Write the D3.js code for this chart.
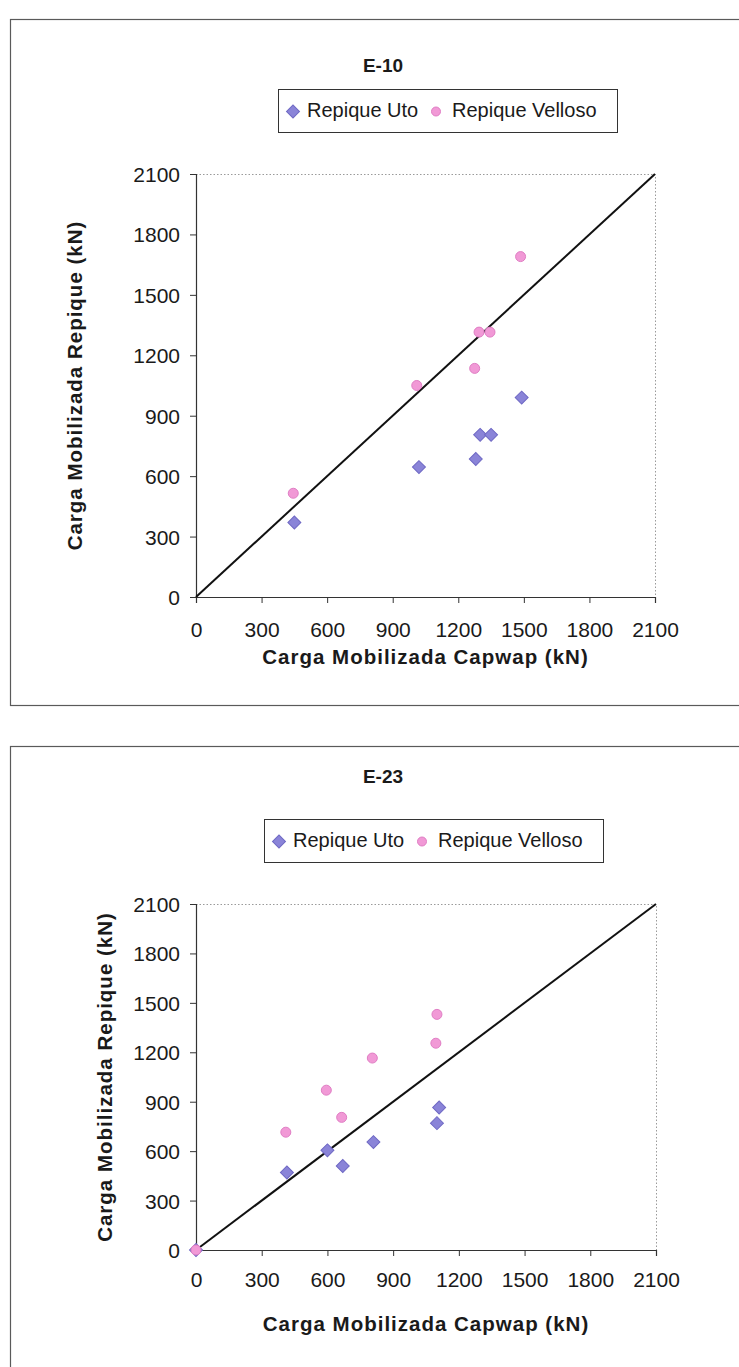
<!DOCTYPE html>
<html>
<head>
<meta charset="utf-8">
<script src="https://cdn.jsdelivr.net/npm/d3@7"></script>
<style>
  html, body { margin: 0; padding: 0; background: #fff; }
  svg { display: block; }
  text { font-family: "Liberation Sans", Arial, sans-serif; fill: #1a1a1a; }
</style>
</head>
<body>
<svg id="chart" width="739" height="1367"></svg>
<script>
// Axis ticks shared by both panels (kN)
const tickValues = [0, 300, 600, 900, 1200, 1500, 1800, 2100];
const seriesNames = ["Repique Uto", "Repique Velloso"];
const panelTitles = ["E-10", "E-23"];

// E-10: [Capwap, Repique] in kN
const e10Uto = [[450, 370], [1020, 645], [1280, 685], [1300, 805], [1350, 805], [1490, 990]];
const e10Velloso = [[445, 515], [1010, 1050], [1275, 1135], [1295, 1315], [1345, 1315], [1485, 1690]];

// E-23: [Capwap, Repique] in kN
const e23Uto = [[0, 0], [415, 470], [600, 605], [670, 510], [810, 655], [1100, 770], [1110, 865]];
const e23Velloso = [[0, 0], [410, 715], [595, 970], [665, 805], [805, 1165], [1095, 1255], [1100, 1430]];

// 1:1 reference line
const identityLine = [[0, 0], [2100, 2100]];

const svg = d3.select("#chart");

const COLORS = {
  uto: { fill: "#8a84d8", stroke: "#6f69c4" },
  velloso: { fill: "#f199d6", stroke: "#e07ec4" }
};

const diamondPath = d3.symbol(d3.symbolSquare, 84)();

function drawDiamond(g, x, y) {
  g.append("path")
    .attr("d", diamondPath)
    .attr("transform", `translate(${x},${y}) rotate(45)`)
    .attr("fill", COLORS.uto.fill)
    .attr("stroke", COLORS.uto.stroke)
    .attr("stroke-width", 1);
}
function drawCircle(g, x, y, r) {
  g.append("circle")
    .attr("cx", x).attr("cy", y).attr("r", r)
    .attr("fill", COLORS.velloso.fill)
    .attr("stroke", COLORS.velloso.stroke)
    .attr("stroke-width", 1);
}

function drawPanel(cfg, title, uto, velloso) {
  const g = svg.append("g");

  // outer chart frame
  g.append("rect")
    .attr("x", cfg.box.x + 0.5).attr("y", cfg.box.y + 0.5)
    .attr("width", cfg.box.w).attr("height", cfg.box.h)
    .attr("fill", "none").attr("stroke", "#5a5a5a").attr("stroke-width", 1.2);

  // title
  g.append("text")
    .attr("x", cfg.titleX).attr("y", cfg.titleY)
    .attr("text-anchor", "middle")
    .style("font-size", "19px").style("font-weight", "bold")
    .text(title);

  // legend
  const lg = g.append("g");
  lg.append("rect")
    .attr("x", cfg.legend.x + 0.5).attr("y", cfg.legend.y + 0.5)
    .attr("width", cfg.legend.w).attr("height", cfg.legend.h)
    .attr("fill", "#fff").attr("stroke", "#333").attr("stroke-width", 1);
  const ly = cfg.legend.y + cfg.legend.h / 2 + 1;
  drawDiamond(lg, cfg.legend.x + 15, ly);
  lg.append("text")
    .attr("x", cfg.legend.x + 29).attr("y", cfg.legend.y + 28)
    .style("font-size", "20px").text(seriesNames[0]);
  drawCircle(lg, cfg.legend.x + 158, ly, 4.5);
  lg.append("text")
    .attr("x", cfg.legend.x + 174).attr("y", cfg.legend.y + 28)
    .style("font-size", "20px").text(seriesNames[1]);

  const x = d3.scaleLinear().domain([0, 2100]).range([cfg.plot.x0, cfg.plot.x1]);
  const y = d3.scaleLinear().domain([0, 2100]).range([cfg.plot.y1, cfg.plot.y0]);

  // dotted plot-area border (top and right)
  g.append("path")
    .attr("d", `M${cfg.plot.x0},${cfg.plot.y0 + 0.5}H${cfg.plot.x1 + 0.5}V${cfg.plot.y1}`)
    .attr("fill", "none").attr("stroke", "#9a9a9a")
    .attr("stroke-width", 1).attr("stroke-dasharray", "1.5,2");

  // axes
  const yAxis = d3.axisLeft(y).tickValues(tickValues).tickSize(6).tickPadding(10)
    .tickFormat(d3.format("d"));
  const xAxis = d3.axisBottom(x).tickValues(tickValues).tickSize(6).tickPadding(0)
    .tickFormat(d3.format("d"));

  const ya = g.append("g").attr("transform", `translate(${cfg.plot.x0},0)`).call(yAxis);
  ya.selectAll("text").style("font-size", "21px").attr("fill", "#1a1a1a")
    .attr("dy", "0.36em");
  const xa = g.append("g").attr("transform", `translate(0,${cfg.plot.y1})`).call(xAxis);
  xa.selectAll("text").style("font-size", "21px").attr("fill", "#1a1a1a")
    .attr("y", cfg.xTickOffset).attr("dy", 0);
  [ya, xa].forEach(a => {
    a.select(".domain").attr("stroke", "#333").attr("stroke-width", 1.2);
    a.selectAll(".tick line").attr("stroke", "#333").attr("stroke-width", 1);
  });

  // axis titles
  g.append("text")
    .attr("x", (cfg.plot.x0 + cfg.plot.x1) / 2).attr("y", cfg.xTitleY)
    .attr("text-anchor", "middle")
    .style("font-size", "20.5px").style("font-weight", "bold")
    .style("letter-spacing", "1px")
    .text("Carga Mobilizada Capwap (kN)");
  g.append("text")
    .attr("transform", `translate(${cfg.yTitleX},${(cfg.plot.y0 + cfg.plot.y1) / 2}) rotate(-90)`)
    .attr("text-anchor", "middle")
    .style("font-size", "20.5px").style("font-weight", "bold")
    .style("letter-spacing", "1px")
    .text("Carga Mobilizada Repique (kN)");

  // 1:1 line
  g.append("path")
    .datum(identityLine)
    .attr("d", d3.line().x(d => x(d[0])).y(d => y(d[1])))
    .attr("fill", "none").attr("stroke", "#111").attr("stroke-width", 2);

  // markers
  const mg = g.append("g");
  uto.forEach(d => drawDiamond(mg, x(d[0]), y(d[1])));
  velloso.forEach(d => drawCircle(mg, x(d[0]), y(d[1]), 5));
}

drawPanel({
  box: { x: 10, y: 19, w: 740, h: 686 },
  titleX: 383, titleY: 72,
  legend: { x: 278, y: 89, w: 339, h: 43 },
  plot: { x0: 196, x1: 655, y0: 174, y1: 597 },
  xTickOffset: 40, xTitleY: 664, yTitleX: 82
}, panelTitles[0], e10Uto, e10Velloso);

drawPanel({
  box: { x: 10, y: 746, w: 740, h: 700 },
  titleX: 383, titleY: 783,
  legend: { x: 264, y: 819, w: 339, h: 43 },
  plot: { x0: 196, x1: 656, y0: 904, y1: 1250 },
  xTickOffset: 37, xTitleY: 1331, yTitleX: 112
}, panelTitles[1], e23Uto, e23Velloso);
</script>
</body>
</html>
